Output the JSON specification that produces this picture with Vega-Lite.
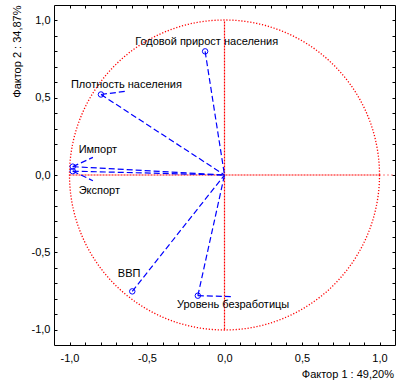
{
  "$schema": "https://vega.github.io/schema/vega-lite/v6.json",
  "width": 341,
  "height": 340,
  "autosize": "none",
  "padding": {"left": 54, "top": 5, "right": 16, "bottom": 46},
  "background": "white",
  "config": {
    "view": {"stroke": "black", "strokeWidth": 1},
    "font": "Liberation Sans",
    "axis": {
      "domain": false,
      "grid": false,
      "ticks": true,
      "tickSize": -3,
      "tickColor": "black",
      "tickWidth": 1,
      "labelFont": "Liberation Sans",
      "labelFontSize": 11,
      "labelColor": "black",
      "titleFont": "Liberation Sans",
      "titleFontSize": 11,
      "titleFontWeight": "normal",
      "titleColor": "black"
    }
  },
  "datasets": {
    "vars": [
      {"name": "Годовой прирост населения", "f1": -0.125, "f2": 0.8, "labx": -0.576, "laby": 0.839, "lx": null, "ly": null},
      {"name": "Плотность населения", "f1": -0.797, "f2": 0.521, "labx": -0.991, "laby": 0.563, "lx": -0.637, "ly": 0.542},
      {"name": "Импорт", "f1": -0.979, "f2": 0.054, "labx": -0.941, "laby": 0.14, "lx": -0.849, "ly": 0.114},
      {"name": "Экспорт", "f1": -0.979, "f2": 0.025, "labx": -0.941, "laby": -0.125, "lx": -0.849, "ly": -0.037},
      {"name": "ВВП", "f1": -0.595, "f2": -0.753, "labx": -0.688, "laby": -0.66, "lx": null, "ly": null},
      {"name": "Уровень безработицы", "f1": -0.172, "f2": -0.781, "labx": -0.307, "laby": -0.86, "lx": 0.041, "ly": -0.787}
    ],
    "origin": [{"x": 0, "y": 0}],
    "vline": [{"x": 0, "y": -1, "y2": 1}],
    "hline": [{"x": -1, "x2": 1, "y": 0}],
    "hline2": [{"x": 1, "x2": 1.1, "y": 0}]
  },
  "resolve": {"axis": {"x": "independent", "y": "independent"}},
  "layer": [
    {
      "data": {"name": "origin"},
      "mark": {"type": "point", "shape": "circle", "size": 96100, "filled": false, "stroke": "#FF0000", "strokeWidth": 1.3, "strokeDash": [1.2, 1.8], "opacity": 1},
      "encoding": {
        "x": {"field": "x", "type": "quantitative", "scale": {"domain": [-1.1, 1.1], "nice": false, "zero": false}, "axis": null},
        "y": {"field": "y", "type": "quantitative", "scale": {"domain": [-1.1, 1.1], "nice": false, "zero": false}, "axis": null}
      }
    },
    {
      "data": {"name": "vline"},
      "mark": {"type": "rule", "color": "#FF0000", "strokeWidth": 1.2, "strokeDash": [2, 1]},
      "encoding": {
        "x": {"field": "x", "type": "quantitative", "scale": {"domain": [-1.1, 1.1], "nice": false, "zero": false}, "axis": null},
        "y": {"field": "y", "type": "quantitative", "scale": {"domain": [-1.1, 1.1], "nice": false, "zero": false}, "axis": null},
        "y2": {"field": "y2"}
      }
    },
    {
      "data": {"name": "hline"},
      "mark": {"type": "rule", "color": "#FF0000", "strokeWidth": 1.2, "strokeDash": [2, 1]},
      "encoding": {
        "x": {"field": "x", "type": "quantitative", "scale": {"domain": [-1.1, 1.1], "nice": false, "zero": false}, "axis": null},
        "x2": {"field": "x2"},
        "y": {"field": "y", "type": "quantitative", "scale": {"domain": [-1.1, 1.1], "nice": false, "zero": false}, "axis": null}
      }
    },
    {
      "data": {"name": "hline2"},
      "mark": {"type": "rule", "color": "#FF0000", "strokeWidth": 1.2, "strokeDash": [1, 3]},
      "encoding": {
        "x": {"field": "x", "type": "quantitative", "scale": {"domain": [-1.1, 1.1], "nice": false, "zero": false},
          "axis": {"orient": "top", "labels": false, "title": null, "values": [-1, -0.9, -0.8, -0.7, -0.6, -0.5, -0.4, -0.3, -0.2, -0.1, 0, 0.1, 0.2, 0.3, 0.4, 0.5, 0.6, 0.7, 0.8, 0.9, 1]}},
        "x2": {"field": "x2"},
        "y": {"field": "y", "type": "quantitative", "scale": {"domain": [-1.1, 1.1], "nice": false, "zero": false},
          "axis": {"orient": "right", "labels": false, "title": null, "values": [-1, -0.9, -0.8, -0.7, -0.6, -0.5, -0.4, -0.3, -0.2, -0.1, 0, 0.1, 0.2, 0.3, 0.4, 0.5, 0.6, 0.7, 0.8, 0.9, 1]}}
      }
    },
    {
      "data": {"name": "vars"},
      "mark": {"type": "rule", "color": "#0000FF", "strokeWidth": 1.2, "strokeDash": [6, 3]},
      "encoding": {
        "x": {"field": "f1", "type": "quantitative", "scale": {"domain": [-1.1, 1.1], "nice": false, "zero": false}, "axis": null},
        "y": {"field": "f2", "type": "quantitative", "scale": {"domain": [-1.1, 1.1], "nice": false, "zero": false}, "axis": null},
        "x2": {"datum": 0},
        "y2": {"datum": 0}
      }
    },
    {
      "data": {"name": "vars"},
      "transform": [{"filter": "datum.lx != null"}],
      "mark": {"type": "rule", "color": "#0000FF", "strokeWidth": 1.2, "strokeDash": [6, 3]},
      "encoding": {
        "x": {"field": "f1", "type": "quantitative", "scale": {"domain": [-1.1, 1.1], "nice": false, "zero": false}, "axis": null},
        "y": {"field": "f2", "type": "quantitative", "scale": {"domain": [-1.1, 1.1], "nice": false, "zero": false}, "axis": null},
        "x2": {"field": "lx"},
        "y2": {"field": "ly"}
      }
    },
    {
      "data": {"name": "vars"},
      "mark": {"type": "point", "shape": "circle", "size": 30, "filled": false, "stroke": "#0000FF", "strokeWidth": 1, "opacity": 1},
      "encoding": {
        "x": {"field": "f1", "type": "quantitative", "scale": {"domain": [-1.1, 1.1], "nice": false, "zero": false},
          "axis": {"orient": "bottom", "title": "Фактор 1 : 49,20%", "titleAnchor": "end", "titleAlign": "right", "titleBaseline": "alphabetic", "titleX": 339.5, "titleY": 32.7, "labelPadding": 10,
            "values": [-1, -0.9, -0.8, -0.7, -0.6, -0.5, -0.4, -0.3, -0.2, -0.1, 0, 0.1, 0.2, 0.3, 0.4, 0.5, 0.6, 0.7, 0.8, 0.9, 1],
            "labelExpr": "abs(datum.value*2 - round(datum.value*2)) < 0.001 ? (datum.value < 0 ? '-' : '') + replace(format(abs(datum.value), '.1f'), '.', ',') : ''"}},
        "y": {"field": "f2", "type": "quantitative", "scale": {"domain": [-1.1, 1.1], "nice": false, "zero": false},
          "axis": {"orient": "left", "title": "Фактор 2 : 34,87%", "titleAnchor": "end", "titleAngle": 270, "titleAlign": "right", "titleBaseline": "alphabetic", "titleX": -33.5, "titleY": 0, "labelPadding": 7,
            "values": [-1, -0.9, -0.8, -0.7, -0.6, -0.5, -0.4, -0.3, -0.2, -0.1, 0, 0.1, 0.2, 0.3, 0.4, 0.5, 0.6, 0.7, 0.8, 0.9, 1],
            "labelExpr": "abs(datum.value*2 - round(datum.value*2)) < 0.001 ? (datum.value < 0 ? '-' : '') + replace(format(abs(datum.value), '.1f'), '.', ',') : ''"}}
      }
    },
    {
      "data": {"name": "vars"},
      "mark": {"type": "text", "align": "left", "baseline": "alphabetic", "fontSize": 11, "font": "Liberation Sans", "color": "black"},
      "encoding": {
        "x": {"field": "labx", "type": "quantitative", "scale": {"domain": [-1.1, 1.1], "nice": false, "zero": false}, "axis": null},
        "y": {"field": "laby", "type": "quantitative", "scale": {"domain": [-1.1, 1.1], "nice": false, "zero": false}, "axis": null},
        "text": {"field": "name"}
      }
    }
  ]
}
